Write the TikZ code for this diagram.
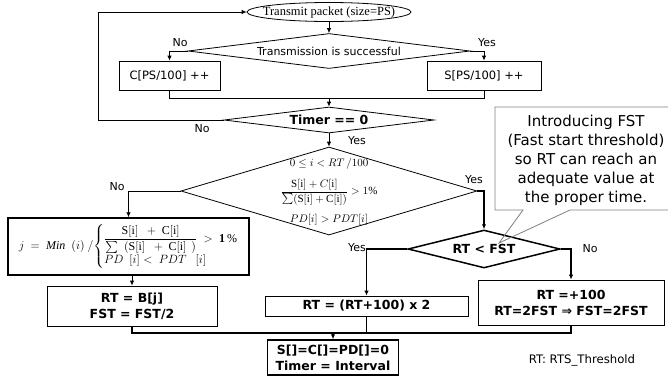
\documentclass[tikz,border=0pt]{standalone}
\usepackage{amsmath}
\usepackage{fontspec}
\setmainfont{Liberation Serif}
\setsansfont{DejaVu Sans}
\usetikzlibrary{shapes.geometric,arrows.meta,calc}
\begin{document}
\begin{tikzpicture}[x=1pt,y=-1pt,
  ln/.style={line width=0.8pt},
  tk/.style={line width=1.5pt},
  arr/.style={-{Latex[length=5pt,width=4.5pt]}},
  box/.style={draw, ln, rectangle, inner sep=0pt, align=center, font=\sffamily\fontsize{11.5}{14}\selectfont},
  bbx/.style={draw, ln, rectangle, inner sep=0pt, align=center, font=\sffamily\bfseries\fontsize{12.5}{16}\selectfont},
  dia/.style={draw, ln, diamond, inner sep=0pt},
  lab/.style={font=\sffamily\fontsize{11}{13}\selectfont, inner sep=0pt},
  dtxt/.style={font=\sffamily\fontsize{11}{13}\selectfont, inner sep=0pt},
  dbtxt/.style={font=\sffamily\bfseries\fontsize{12.5}{15}\selectfont, inner sep=0pt},
  mtxt/.style={font=\fontsize{11}{13}\selectfont, inner sep=0pt},
]
\useasboundingbox[fill=white] (0,0) rectangle (668,381);

% nodes
\node[draw, ln, ellipse, minimum width=164pt, minimum height=19pt, inner sep=0pt,
      label={[font=\fontsize{12.5}{14}\selectfont, inner sep=0pt]center:Transmit packet (size=PS)}] (e) at (329,12) {};
\node[dia, minimum width=282pt, minimum height=35pt,
      label={[dtxt]center:Transmission is successful}] (d1) at (329,51) {};
\node[box, minimum width=101pt, minimum height=29pt] (cb) at (169.5,75.5) {C[PS/100] ++};
\node[box, minimum width=114pt, minimum height=29pt] (sb) at (484,75.5) {S[PS/100] ++};
\node[dia, minimum width=210pt, minimum height=26pt,
      label={[dbtxt]center:Timer == 0}] (d2) at (329,120) {};
\node[dia, minimum width=296pt, minimum height=88pt,
      label={[mtxt,yshift=27pt]center:$0\le i<RT\,/100$},
      label={[mtxt,yshift=-1pt]center:$\dfrac{\mathrm{S[i]}+C[\mathrm{i}]}{\sum(\mathrm{S[i]}+\mathrm{C[i]})}>1\%$},
      label={[mtxt,yshift=-29pt]center:$PD[i]>PDT[i]$}] (d3) at (329,191) {};
\node[dia, tk, minimum width=152pt, minimum height=38pt,
      label={[dbtxt]center:RT < FST}] (d4) at (484,249) {};
\node[draw, tk, rectangle, inner sep=0pt, minimum width=241pt, minimum height=57pt,
      font=\fontsize{12}{14}\selectfont] (fb) at (128.5,246.5)
  {$j\ =\ \mathit{Min}\ \ (i)\ /\!\left\{\begin{array}{@{}l@{}}
     \dfrac{\mathrm{S[i]}\ \ +\ \mathrm{C[i]}}{\sum\ \ (\mathrm{S[i]}\ \ +\ \mathrm{C[i]}\ \,)}\ >\ \mathbf{1\,\%}\\[1pt]
     PD\ \ [i] <\ PDT\ \ \ [i]\end{array}\right.$};
\node[bbx, minimum width=170pt, minimum height=40pt] (bb) at (132,306) {RT = B[j]\\FST = FST/2};
\node[bbx, minimum width=203pt, minimum height=20pt] (mb) at (366.5,306) {RT = (RT+100) x 2};
\node[bbx, minimum width=186pt, minimum height=45pt] (pb) at (571,302.5) {RT =+100\\RT=2FST ⇒ FST=2FST};
\node[bbx, tk, minimum width=131pt, minimum height=35pt] (rb) at (333,357.5) {S[]=C[]=PD[]=0\\Timer = Interval};

% branch labels
\node[lab] (n1) at (180,43) {No};
\node[lab] (y1) at (487,43) {Yes};
\node[lab] (n2) at (202,129) {No};
\node[lab] (y2) at (357,141) {Yes};
\node[lab] (n3) at (117,187) {No};
\node[lab] (y3) at (474,180) {Yes};
\node[lab] (y4) at (357,248) {Yes};
\node[lab] (n4) at (590,249) {No};

% connectors
\draw[ln,arr] (e.south) -- (d1.north);
\draw[ln,arr] (d1.west) -| (cb.north);
\draw[ln,arr] (d1.east) -| (sb.north);
\coordinate (m1) at (329,98);
\draw[ln] (cb.south) |- (m1);
\draw[ln] (sb.south) |- (m1);
\draw[ln,arr] (m1) -- (d2.north);
\coordinate (lp) at (98,120);
\draw[ln,arr] (d2.west) -- (lp) |- (e.west);
\draw[ln,arr] (d2.south) -- (d3.north);
\draw[tk,arr] (d3.east) -| (d4.north);
\draw[ln,arr] (d3.west) -| (fb.north);
\draw[tk,arr] (d4.west) -| (mb.north);
\draw[tk,arr] (d4.east) -| (pb.north);
\draw[ln,arr] (fb.south -| bb.north) -- (bb.north);
\coordinate (m2) at (333,333);
\draw[tk] (bb.south) |- (m2);
\draw[tk] (pb.south) |- (m2);
\draw[tk] (mb.south) -- (mb.south |- m2);
\draw[tk,arr] (m2) -- (rb.north);

% callout
\fill[white] (495,107) rectangle (680,210);
\draw[gray, line width=0.8pt] (523,210) -- (495,210) -- (495,107) -- (680,107) -- (680,210) -- (570,210) -- (499,243) -- cycle;
\node[font=\sffamily\fontsize{15}{19}\selectfont, align=center, inner sep=0pt] (co) at (586,160)
  {Introducing FST\\(Fast start threshold)\\so RT can reach an\\adequate value at\\the proper time.};

\node[font=\sffamily\fontsize{11.7}{14}\selectfont, inner sep=0pt] (note) at (582,360) {RT: RTS\_Threshold};
\end{tikzpicture}
\end{document}
